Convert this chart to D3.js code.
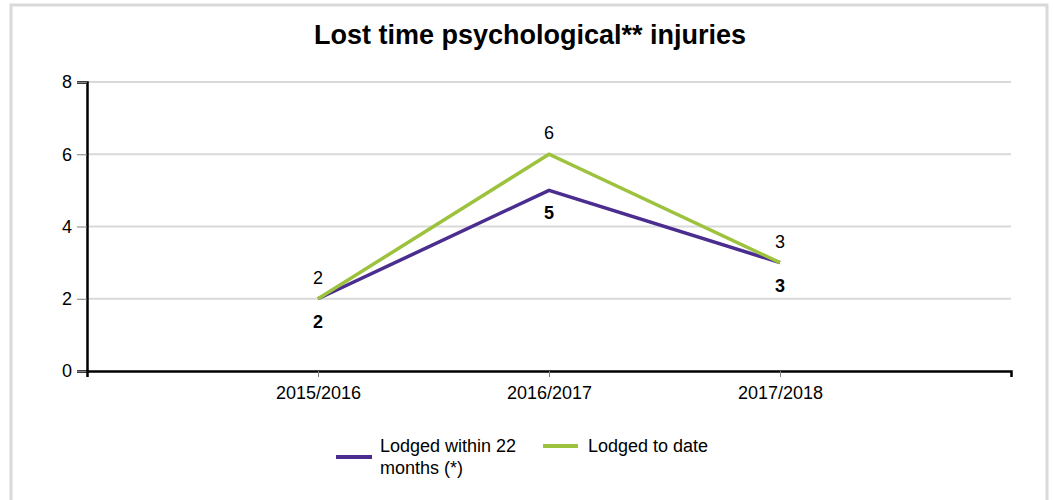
<!DOCTYPE html>
<html>
<head>
<meta charset="utf-8">
<script src="https://cdn.jsdelivr.net/npm/d3@7"></script>
<style>
  body { margin: 0; background: #fff; font-family: "Liberation Sans", Arial, sans-serif; }
  #chart { width: 1053px; height: 500px; }
  .y-axis .tick line { stroke: #808080; }
  .x-axis .tick line { stroke: #808080; }
</style>
</head>
<body>
<div id="chart"></div>
<script>
// Chart data
var categories = ['2015/2016', '2016/2017', '2017/2018'];
var within22 = [2, 5, 3];
var toDate = [2, 6, 3];
var yTicks = [0, 2, 4, 6, 8];
var seriesNames = ['Lodged within 22 months (*)', 'Lodged to date'];

var margin = {top: 82, right: 42, bottom: 129, left: 87};
var W = 1053, H = 500;
var width = W - margin.left - margin.right;
var height = H - margin.top - margin.bottom;
var fontSize = '18px';

var svg = d3.select('#chart').append('svg')
    .attr('width', W)
    .attr('height', H);

// outer frame
svg.append('rect')
    .attr('x', 11).attr('y', 5)
    .attr('width', 1036).attr('height', 510)
    .attr('fill', 'none')
    .attr('stroke', '#d9d9d9')
    .attr('stroke-width', 3);

svg.append('text')
    .attr('x', 530).attr('y', 44)
    .attr('text-anchor', 'middle')
    .style('font-size', '27px')
    .style('font-weight', 'bold')
    .text('Lost time psychological** injuries');

var g = svg.append('g')
    .attr('transform', `translate(${margin.left}, ${margin.top})`);

var x = d3.scalePoint()
    .domain(categories)
    .range([0, width])
    .padding(1);

var y = d3.scaleLinear()
    .domain([0, 8])
    .range([height, 0]);

// gridlines
g.append('g')
  .selectAll('line')
  .data(yTicks.filter(d => d > 0))
  .join('line')
    .attr('x1', 0).attr('x2', width)
    .attr('y1', d => y(d)).attr('y2', d => y(d))
    .attr('stroke', '#d9d9d9')
    .attr('stroke-width', 2);

// y axis
var yAxisGroup = g.append('g')
    .attr('class', 'y-axis')
    .call(d3.axisLeft(y).tickValues(yTicks).tickSize(10).tickPadding(5));
yAxisGroup.select('.domain').attr('stroke', '#000').attr('stroke-width', 2.5);
yAxisGroup.selectAll('text').style('font-size', fontSize).style('fill', '#000')
    .style('font-family', '"Liberation Sans", Arial, sans-serif');

// x axis
var xAxisGroup = g.append('g')
    .attr('class', 'x-axis')
    .attr('transform', `translate(0, ${height})`)
    .call(d3.axisBottom(x).tickSizeInner(6).tickSizeOuter(6).tickPadding(9));
xAxisGroup.select('.domain').attr('stroke', '#000').attr('stroke-width', 2.5);
xAxisGroup.selectAll('text').style('font-size', fontSize).style('fill', '#000')
    .style('font-family', '"Liberation Sans", Arial, sans-serif');

var series = [
  {name: seriesNames[0], values: within22, color: '#4b2d8f', labelDy: 29, weight: 'bold'},
  {name: seriesNames[1], values: toDate, color: '#9dc23e', labelDy: -15, weight: 'normal'}
];

var line = d3.line()
    .x((d, i) => x(categories[i]))
    .y(d => y(d));

// draw lines
series.forEach(s => {
  g.append('path')
      .datum(s.values)
      .attr('fill', 'none')
      .attr('stroke', s.color)
      .attr('stroke-width', 3.5)
      .attr('stroke-linejoin', 'miter')
      .attr('d', line);
});

// value labels
series.forEach(s => {
  g.append('g')
    .selectAll('text')
    .data(s.values)
    .join('text')
      .attr('x', (d, i) => x(categories[i]))
      .attr('y', d => y(d) + s.labelDy)
      .attr('text-anchor', 'middle')
      .style('font-size', fontSize)
      .style('font-weight', s.weight)
      .text(d => d);
});

// legend
var legend = svg.append('g');
legend.append('line')
    .attr('x1', 336).attr('x2', 372)
    .attr('y1', 457).attr('y2', 457)
    .attr('stroke', series[0].color).attr('stroke-width', 4);
var lt = legend.append('text')
    .attr('x', 380).attr('y', 452)
    .style('font-size', fontSize);
lt.append('tspan').attr('x', 380).text('Lodged within 22');
lt.append('tspan').attr('x', 380).attr('dy', 22).text('months (*)');

legend.append('line')
    .attr('x1', 543).attr('x2', 578)
    .attr('y1', 446).attr('y2', 446)
    .attr('stroke', series[1].color).attr('stroke-width', 4);
legend.append('text')
    .attr('x', 588).attr('y', 452)
    .style('font-size', fontSize)
    .text('Lodged to date');
</script>
</body>
</html>
